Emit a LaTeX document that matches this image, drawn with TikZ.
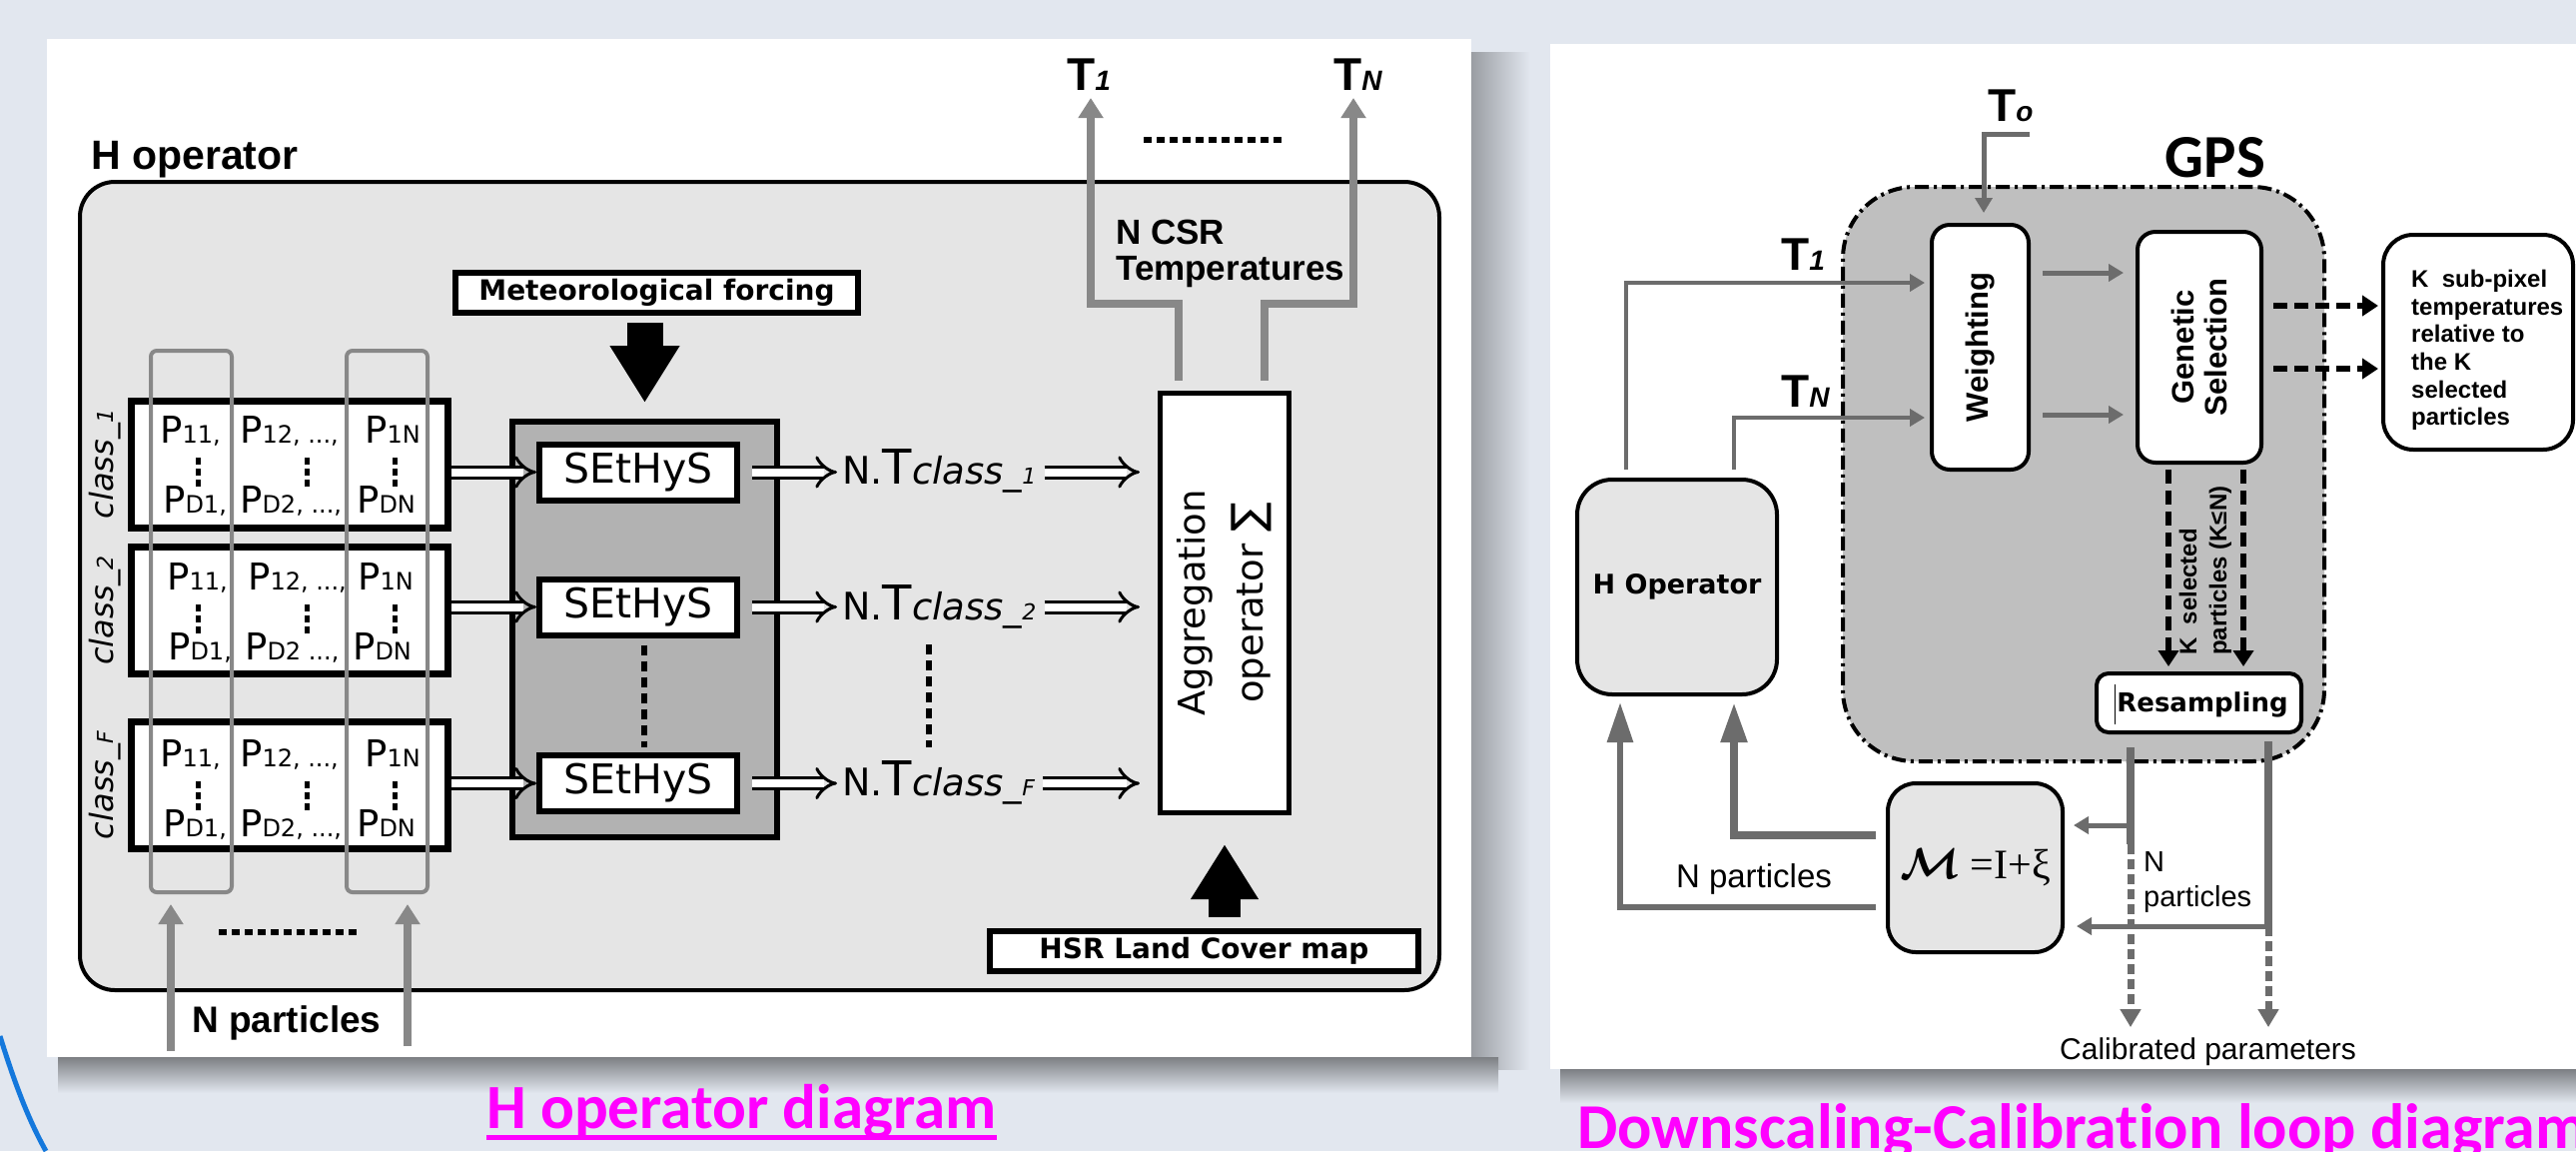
\documentclass[tikz,border=0pt]{standalone}
\usepackage{fontspec}
\usepackage{graphicx}
\setmainfont{DejaVu Sans}
\newfontfamily\arialfont{Liberation Sans}
\newfontfamily\calfont[Ligatures=NoCommon]{Carlito}
\newfontfamily\romanfont{Liberation Serif}
\usetikzlibrary{arrows.meta,positioning,calc}

\definecolor{pagebg}{RGB}{226,231,239}
\definecolor{panelgray}{RGB}{229,229,229}
\definecolor{sethgray}{RGB}{178,178,178}
\definecolor{gpsgray}{RGB}{191,191,191}
\definecolor{linegray}{RGB}{136,136,136}
\definecolor{loopgray}{RGB}{108,108,108}
\definecolor{capmagenta}{RGB}{255,0,255}
\definecolor{arcblue}{RGB}{20,120,220}

\newcommand{\fs}[1]{\fontsize{#1}{#1}\selectfont}
\newcommand{\psub}[1]{{\fs{24}#1}}

\begin{document}
\begin{tikzpicture}[
  x=1pt, y=-1pt,
  every node/.style={inner sep=0pt},
  blackbox/.style={draw, fill=white, line width=6pt},
  classbox/.style={blackbox, line width=7pt, minimum width=317pt, minimum height=127pt},
  sethbox/.style={blackbox, minimum width=198pt, minimum height=56pt, font=\fs{41}},
  labelbox/.style={blackbox, font=\bfseries\fs{28}, minimum height=40pt},
  column/.style={draw=linegray, line width=4pt, rounded corners=6pt,
    minimum width=81pt, minimum height=542pt},
  pentry/.style={anchor=base west, font=\fs{37}},
  vdots/.style={line width=5pt, dash pattern=on 7pt off 4pt},
  hdots/.style={line width=6pt, dash pattern=on 8pt off 5pt},
  dblarrow/.style={line width=3pt, double=white, double distance=8pt, -{Implies}},
  bigarrow/.style={line width=36pt, -{Triangle[length=57pt,width=66pt]}},
  grayarrow/.style={draw=linegray, line width=8pt, -{Triangle[length=20pt,width=24pt]}},
  roundbox/.style={draw, fill=white, line width=4pt, rounded corners=18pt},
  loopline/.style={draw=loopgray, line width=5pt},
  looparrow/.style={loopline, -{Triangle[length=15pt,width=17pt]}},
  loopdash/.style={loopline, line width=7pt, dash pattern=on 10pt off 5pt,
    -{Triangle[length=18pt,width=20pt]}},
  selarrow/.style={line width=6pt, dash pattern=on 14pt off 7pt,
    -{Triangle[length=16pt,width=20pt]}},
  tname/.style={anchor=base west, font=\arialfont\bfseries\fs{46}},
  captext/.style={anchor=base west, font=\calfont\bfseries\fs{64}, text=capmagenta}
]
% page, shadows and the two white panels
\fill[pagebg] (0,0) rectangle (2579,1152);
\useasboundingbox (0,0) rectangle (2579,1152);
\draw[arcblue, line width=5pt] (0,1037) .. controls (14,1082) and (28,1120) .. (46,1152);
\shade[left color=black!32!pagebg, right color=pagebg] (1473,52) rectangle (1532,1070);
\shade[top color=black!45!pagebg, bottom color=pagebg] (58,1058) rectangle (1500,1094);
\shade[top color=black!45!pagebg, bottom color=pagebg] (1562,1070) rectangle (2579,1104);
\fill[white] (47,39) rectangle (1473,1058);
\fill[white] (1552,44) rectangle (2579,1070);

%%% H operator
\node[anchor=base west, font=\arialfont\bfseries\fs{41}] (hlabel) at (91,169) {H operator};
\node[draw, fill=panelgray, line width=4pt, rounded corners=35pt,
  minimum width=1361pt, minimum height=809pt] (hpanel) at (760.5,586.5) {};

% forcing and SEtHyS column
\node[labelbox, minimum width=403pt] (meteo) at (657.5,293) {Meteorological forcing};
\node[draw, fill=sethgray, line width=6pt, minimum width=265pt, minimum height=416pt]
  (sethcol) at (645.5,630) {};
\node[sethbox] (seth1) at (639,472.5) {SEtHyS};
\node[sethbox] (seth2) at (639,607.5) {SEtHyS};
\node[sethbox] (seth3) at (639,784) {SEtHyS};
\draw[line width=6pt, dash pattern=on 10pt off 6pt, shorten <=7pt, shorten >=5pt]
  ([xshift=6pt]seth2.south) -- ([xshift=6pt]seth3.north);
\draw[bigarrow, shorten <=7pt, shorten >=16pt] (meteo.south -| sethcol.north) -- (sethcol.north);

% parameter classes
\node[classbox] (cls1) at (290,464.5) {};
\node[classbox] (cls2) at (290,611) {};
\node[classbox] (cls3) at (290,786) {};
\node[rotate=90, font=\itshape\fs{32}] (lab1) at (105,464.5) {class\_{\fs{22}1}};
\node[rotate=90, font=\itshape\fs{32}] (lab2) at (105,611) {class\_{\fs{22}2}};
\node[rotate=90, font=\itshape\fs{32}] (labF) at (105,786) {class\_{\fs{22}F}};

% particle columns
\node[column] (col1) at (191.5,622) {};
\node[column] (col2) at (387.5,622) {};

% class 1
\node[pentry] at (160,443) {P\psub{11,}};
\node[pentry] at (240,443) {P\psub{12, ...,}};
\node[pentry] at (365,443) {P\psub{1N}};
\node[pentry] at (163,513) {P\psub{D1,}};
\node[pentry] at (240,513) {P\psub{D2, ...,}};
\node[pentry] at (357,513) {P\psub{DN}};
\draw[vdots] (198,458) -- (198,487);
\draw[vdots] (307,458) -- (307,487);
\draw[vdots] (395,458) -- (395,487);
% class 2
\node[pentry] at (167,590) {P\psub{11,}};
\node[pentry] at (248,590) {P\psub{12, ...,}};
\node[pentry] at (358,590) {P\psub{1N}};
\node[pentry] at (168,660) {P\psub{D1,}};
\node[pentry] at (245,660) {P\psub{D2 ...,}};
\node[pentry] at (353,660) {P\psub{DN}};
\draw[vdots] (198,605) -- (198,634);
\draw[vdots] (307,605) -- (307,634);
\draw[vdots] (395,605) -- (395,634);
% class F
\node[pentry] at (160,767) {P\psub{11,}};
\node[pentry] at (240,767) {P\psub{12, ...,}};
\node[pentry] at (365,767) {P\psub{1N}};
\node[pentry] at (163,837) {P\psub{D1,}};
\node[pentry] at (240,837) {P\psub{D2, ...,}};
\node[pentry] at (357,837) {P\psub{DN}};
\draw[vdots] (198,782) -- (198,811);
\draw[vdots] (307,782) -- (307,811);
\draw[vdots] (395,782) -- (395,811);

\draw[dblarrow] (cls1.east |- seth1) -- (seth1.west);
\draw[dblarrow] (cls2.east |- seth2) -- (seth2.west);
\draw[dblarrow] (cls3.east |- seth3) -- (seth3.west);

% aggregation
\node[draw, fill=white, line width=5pt, minimum width=129pt, minimum height=420pt]
  (agg) at (1226,603.5) {};
\node[rotate=90, align=center, font=\fontsize{37}{58}\selectfont] at (agg.center)
  {Aggregation\\operator {\fs{44}∑}};

\node[anchor=base west] (nt1) at (843,484)
  {{\fs{38}N.}{\fs{48}T}{\itshape\fs{37}class\_}{\itshape\fs{22}1}};
\node[anchor=base west] (nt2) at (843,620)
  {{\fs{38}N.}{\fs{48}T}{\itshape\fs{37}class\_}{\itshape\fs{22}2}};
\node[anchor=base west] (nt3) at (843,796)
  {{\fs{38}N.}{\fs{48}T}{\itshape\fs{37}class\_}{\itshape\fs{22}F}};
\draw[line width=6pt, dash pattern=on 10pt off 6pt] (930,645) -- (930,748);

\draw[dblarrow, shorten <=12pt, shorten >=5pt] (seth1.east) -- (seth1.east -| nt1.west);
\draw[dblarrow, shorten <=12pt, shorten >=5pt] (seth2.east) -- (seth2.east -| nt2.west);
\draw[dblarrow, shorten <=12pt, shorten >=5pt] (seth3.east) -- (seth3.east -| nt3.west);
\draw[dblarrow, shorten <=8pt, shorten >=18pt] (nt1.east |- seth1) -- (agg.west |- seth1);
\draw[dblarrow, shorten <=8pt, shorten >=18pt] (nt2.east |- seth2) -- (agg.west |- seth2);
\draw[dblarrow, shorten <=8pt, shorten >=18pt] (nt3.east |- seth3) -- (agg.west |- seth3);

% land cover
\node[labelbox, minimum width=429pt] (landcover) at (1205.5,952) {HSR Land Cover map};
\draw[bigarrow, line width=32pt, -{Triangle[length=55pt,width=64pt]},
  shorten <=11pt, shorten >=29pt] (landcover.north -| agg.south) -- (agg.south);

% CSR outputs
\coordinate (t1tip) at (1092,98);
\coordinate (tntip) at (1355,98);
\draw[grayarrow, shorten <=10pt] ([xshift=-46pt]agg.north) -- ++(0,-87) -| (t1tip);
\draw[grayarrow, shorten <=10pt] ([xshift=40pt]agg.north) -- ++(0,-87) -| (tntip);
\node[tname] (t1) at (1068,90) {T{\itshape\fs{28}1}};
\node[tname] (tn) at (1335,90) {T{\itshape\fs{28}N}};
\draw[hdots] (1145,140) -- (1285,140);
\node[anchor=north west, align=left, font=\arialfont\bfseries\fontsize{35}{36}\selectfont]
  (csr) at (1117,220) {N CSR\\Temperatures};

% particles in
\coordinate (np1) at (171,1052);
\coordinate (np2) at (408,1047);
\draw[grayarrow, shorten >=10pt] (np1) -- (np1 |- col1.south);
\draw[grayarrow, shorten >=10pt] (np2) -- (np2 |- col2.south);
\draw[hdots] (219,933) -- (360,933);
\node[anchor=base, font=\arialfont\bfseries\fs{37}] (nparts) at (287,1033) {N particles};

%%% calibration loop
\node[draw, fill=gpsgray, line width=4pt, rounded corners=72pt,
  dash pattern=on 14pt off 5pt on 3pt off 5pt,
  minimum width=482pt, minimum height=575pt] (gps) at (2086,474.5) {};
\node[anchor=base, font=\calfont\bfseries\fs{61}] (gpslabel) at (2218,177) {GPS};

\node[roundbox, minimum width=97pt, minimum height=245pt] (weight) at (1982.5,347.5) {};
\node[rotate=90, font=\arialfont\bfseries\fs{31}] at (weight.center) {Weighting};
\node[roundbox, minimum width=124pt, minimum height=231pt] (gensel) at (2202,347.5) {};
\node[rotate=90, align=center, font=\arialfont\bfseries\fontsize{31}{33}\selectfont]
  at (gensel.center) {Genetic\\Selection};
\node[roundbox, rounded corners=30pt, minimum width=190pt, minimum height=215pt]
  (kbox) at (2481,342.5) {};
\node[anchor=north west, align=left, font=\arialfont\bfseries\fontsize{24}{27.6}\selectfont]
  (ktext) at (2414,270) {K\ \ sub-pixel\\temperatures\\relative to\\the K\\selected\\particles};
\node[roundbox, rounded corners=35pt, fill=panelgray, minimum width=200pt,
  minimum height=215pt, font=\bfseries\fs{27}] (hop) at (1679,587.5) {H Operator};
\node[roundbox, rounded corners=12pt, minimum width=205pt, minimum height=59pt]
  (resamp) at (2201.5,703.5) {};
\node[font=\bfseries\fs{26}] (resamptext) at (2205,705) {Resampling};
\draw[line width=1pt] ([xshift=-2pt]resamptext.west) ++(0,-20) -- ++(0,40);
\node[roundbox, rounded corners=28pt, fill=panelgray, minimum width=175pt,
  minimum height=169pt] (mbox) at (1977.5,868.5)
  {\fs{20}\scalebox{2.1}{\boldmath$\mathcal{M}$}\romanfont\fs{42} =I+ξ};

% temperatures in
\node[tname] (t0) at (1990,121) {T{\itshape\fs{28}o}};
\coordinate (t0end) at (2032,134);
\draw[looparrow, shorten >=10pt] (t0end) -| ([xshift=3.5pt]weight.north);
\node[tname] (rt1) at (1783,270) {T{\itshape\fs{28}1}};
\node[tname] (rtn) at (1783,407) {T{\itshape\fs{28}N}};
\draw[looparrow, line width=4.5pt, shorten <=8pt, shorten >=5pt]
  ([xshift=-51pt]hop.north) |- ([yshift=64.5pt]weight.west);
\draw[looparrow, line width=4.5pt, shorten <=8pt, shorten >=5pt]
  ([xshift=57pt]hop.north) |- ([yshift=-70.5pt]weight.west);
\draw[looparrow, shorten <=12pt, shorten >=12pt]
  ([yshift=74.5pt]weight.east) -- ([yshift=74.5pt]gensel.west);
\draw[looparrow, shorten <=12pt, shorten >=12pt]
  ([yshift=-67.5pt]weight.east) -- ([yshift=-67.5pt]gensel.west);

% selection outputs
\draw[selarrow, shorten <=10pt, shorten >=3pt]
  ([yshift=41.5pt]gensel.east) -- ([yshift=41.5pt]gensel.east -| kbox.west);
\draw[selarrow, shorten <=10pt, shorten >=3pt]
  ([yshift=-21.5pt]gensel.east) -- ([yshift=-21.5pt]gensel.east -| kbox.west);
\draw[selarrow, shorten <=5pt, shorten >=5pt]
  ([xshift=-31pt]gensel.south) -- ([xshift=-31pt]gensel.south |- resamp.north);
\draw[selarrow, shorten <=5pt, shorten >=5pt]
  ([xshift=44pt]gensel.south) -- ([xshift=44pt]gensel.south |- resamp.north);
\node[rotate=90, anchor=west, align=left, font=\arialfont\bfseries\fontsize{24}{30}\selectfont]
  at (2208,656) {K\ \ selected\\particles (K≤N)};

% resampled particles
\coordinate (splitL) at (2133,826);
\coordinate (dashL) at (2133,845);
\coordinate (cornerR) at (2271,927);
\node[anchor=base west, font=\arialfont\fs{30}] (calib) at (2062,1060) {Calibrated parameters};
\draw[loopline, line width=8pt, shorten <=13pt] ([xshift=-68.5pt]resamp.south) -- (dashL);
\draw[looparrow, shorten >=9pt] (splitL) -- (splitL -| mbox.east);
\draw[loopdash, shorten >=10pt] (dashL) -- (dashL |- calib.north);
\draw[loopline, line width=8pt, shorten <=7pt] ([xshift=69.5pt]resamp.south) -- (cornerR);
\draw[looparrow, shorten >=12pt] (cornerR) -- (cornerR -| mbox.east);
\draw[loopdash, shorten >=10pt] (cornerR) -- (cornerR |- calib.north);
\node[anchor=north west, align=left, font=\arialfont\fontsize{29}{35}\selectfont]
  (nright) at (2146,852) {N\\particles};

% mutated particles back to H
\draw[loopline, line width=8pt, -{Triangle[length=40pt,width=25pt]}, shorten <=10pt, shorten >=6pt]
  ([yshift=32.5pt]mbox.west) -| ([xshift=57pt]hop.south);
\draw[loopline, line width=6pt, -{Triangle[length=40pt,width=25pt]}, shorten <=10pt, shorten >=6pt]
  ([yshift=-39.5pt]mbox.west) -| ([xshift=-57pt]hop.south);
\node[anchor=base, font=\arialfont\fs{33}] (nleft) at (1756,888) {N particles};

% captions
\node[captext, font=\calfont\bfseries\fs{63}] (cap1) at (487,1129) {H operator diagram};
\draw[capmagenta, line width=5pt] ([yshift=-9pt]cap1.base west) -- ([yshift=-9pt]cap1.base east);
\node[captext] (cap2) at (1579,1149) {Downscaling-Calibration loop diagram};
\end{tikzpicture}
\end{document}
